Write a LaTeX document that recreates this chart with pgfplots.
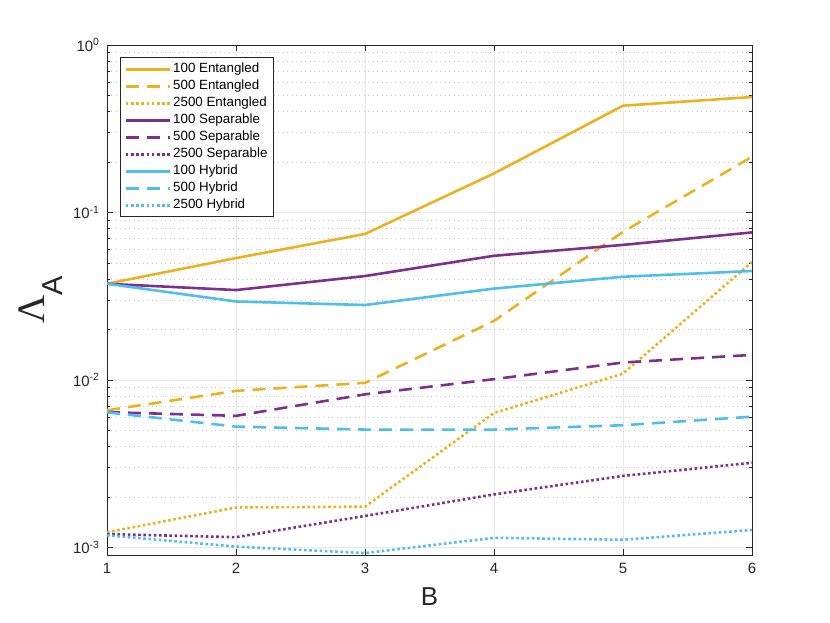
\documentclass[border=0pt]{standalone}
\usepackage{fontspec}
\setmainfont{Liberation Sans}
\newfontfamily\greekserif{Liberation Serif}
\usepackage{pgfplots}
\pgfplotsset{compat=1.18}
\definecolor{mo}{rgb}{0.929,0.694,0.125}
\definecolor{mp}{rgb}{0.494,0.184,0.556}
\definecolor{mb}{rgb}{0.301,0.745,0.933}
\definecolor{ax}{rgb}{0.15,0.15,0.15}
\begin{document}
\begin{tikzpicture}[x=1bp,y=1bp]
\path[use as bounding box] (-107,-68) rectangle (723,555);
\begin{axis}[
  at={(0,0)}, anchor=south west,
  scale only axis, width=645bp, height=510bp,
  xmin=1, xmax=6, ymode=log, log basis y=10, ymin=9e-4, ymax=1,
  xtick={1,2,3,4,5,6},
  tick align=inside, xtick pos=both, ytick pos=both,
  major tick length=6bp, minor tick length=3.5bp,
  axis line style={ax, line width=0.7bp},
  every tick/.style={ax, line width=0.6bp},
  ticklabel style={font=\fontsize{15}{15}\selectfont, text=ax},
  xticklabel style={yshift=-5bp},
  yticklabel style={xshift=-4bp},
  /pgf/number format/assume math mode=true,
  yticklabel={10\textsuperscript{\pgfmathparse{int(round(\tick))}\pgfmathresult}},
  grid=both,
  major grid style={gray!18, line width=0.6bp},
  minor grid style={gray!45, line width=0.6bp, dash pattern=on 1bp off 3.5bp},
  xlabel={B},
  xlabel style={font=\fontsize{26}{26}\selectfont, text=ax, at={(axis description cs:0.5,0)}, anchor=center, yshift=-42bp},
  ylabel={{\greekserif\fontsize{39}{39}\selectfont Λ}\raisebox{-18bp}{\fontsize{29}{29}\selectfont A}},
  ylabel style={text=ax, at={(axis description cs:0,0.5)}, anchor=center, yshift=66bp},
  legend style={at={(0.02,0.976)}, anchor=north west, draw=ax, line width=0.6bp, fill=white,
    font=\fontsize{13.4}{15}\selectfont, inner xsep=4bp, inner ysep=3.5bp,
    nodes={inner sep=2bp, text height=9.5bp, text depth=2.5bp}, row sep=1bp},
  legend cell align=left,
  legend image code/.code={\draw[#1, line width=3bp] (0bp,0bp) -- (44bp,0bp);},
  every axis plot/.append style={line width=2.6bp},
]
\addplot[mo, solid] coordinates {(1,0.0375)(2,0.0534)(3,0.0744)(4,0.171)(5,0.434)(6,0.489)};
\addlegendentry{100 Entangled}
\addplot[mo, dash pattern=on 13bp off 8bp] coordinates {(1,0.00658)(2,0.0086)(3,0.0096)(4,0.0225)(5,0.0766)(6,0.215)};
\addlegendentry{500 Entangled}
\addplot[mo, dash pattern=on 2.6bp off 2.6bp] coordinates {(1,0.00123)(2,0.00173)(3,0.00175)(4,0.00634)(5,0.0109)(6,0.0506)};
\addlegendentry{2500 Entangled}
\addplot[mp, solid] coordinates {(1,0.0375)(2,0.0344)(3,0.0417)(4,0.0551)(5,0.064)(6,0.076)};
\addlegendentry{100 Separable}
\addplot[mp, dash pattern=on 13bp off 8bp] coordinates {(1,0.00642)(2,0.0061)(3,0.0082)(4,0.0101)(5,0.0127)(6,0.0141)};
\addlegendentry{500 Separable}
\addplot[mp, dash pattern=on 2.6bp off 2.6bp] coordinates {(1,0.0012)(2,0.00115)(3,0.00154)(4,0.00207)(5,0.00267)(6,0.0032)};
\addlegendentry{2500 Separable}
\addplot[mb, solid] coordinates {(1,0.0375)(2,0.0294)(3,0.0280)(4,0.0351)(5,0.0413)(6,0.0447)};
\addlegendentry{100 Hybrid}
\addplot[mb, dash pattern=on 13bp off 8bp] coordinates {(1,0.0064)(2,0.00526)(3,0.00505)(4,0.00505)(5,0.00536)(6,0.00603)};
\addlegendentry{500 Hybrid}
\addplot[mb, dash pattern=on 2.6bp off 2.6bp] coordinates {(1,0.00118)(2,0.00101)(3,0.000924)(4,0.00114)(5,0.00111)(6,0.00127)};
\addlegendentry{2500 Hybrid}
\end{axis}
\end{tikzpicture}
\end{document}
